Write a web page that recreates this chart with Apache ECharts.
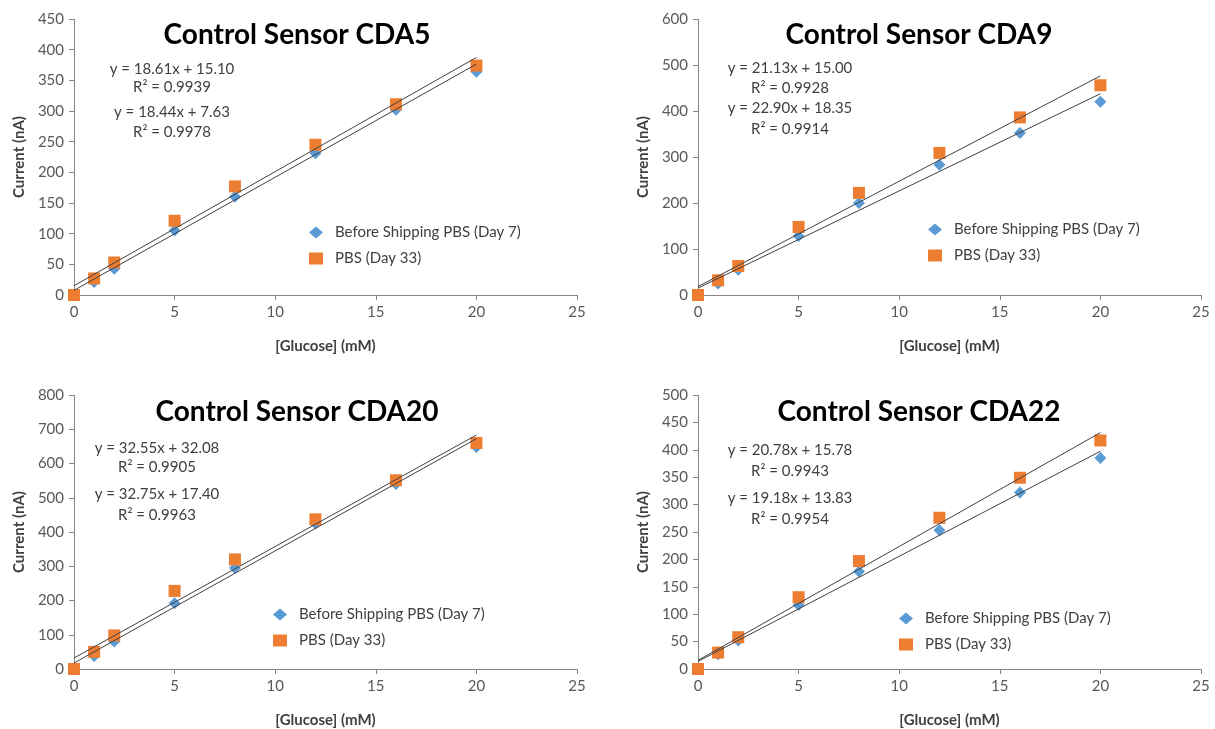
<!DOCTYPE html>
<html>
<head>
<meta charset="utf-8">
<title>Control Sensors</title>
<script src="https://cdn.jsdelivr.net/npm/echarts@6/dist/echarts.min.js"></script>
<style>
  html, body { margin: 0; padding: 0; background: #ffffff; }
  #chart { width: 1215px; height: 729px; }
</style>
</head>
<body>
<div id="chart"></div>
<script>
// Glucose concentrations (mM) used for every sensor
const glucose = [0, 1, 2, 5, 8, 12, 16, 20];

// Sensor names
const sensors = ['CDA5', 'CDA9', 'CDA20', 'CDA22'];

// Measured current (nA), before shipping (day 7)
const beforeCDA5  = [0, 21, 43, 105, 160, 231, 302, 364];
const beforeCDA9  = [0, 25, 55, 128, 200, 283, 352, 420];
const beforeCDA20 = [0, 38, 80, 192, 295, 425, 540, 648];
const beforeCDA22 = [0, 27, 52, 117, 178, 253, 322, 385];

// Measured current (nA), day 33
const day33CDA5  = [0, 27, 53, 121, 177, 245, 311, 374];
const day33CDA9  = [0, 32, 63, 148, 222, 309, 386, 456];
const day33CDA20 = [0, 50, 98, 228, 320, 437, 551, 660];
const day33CDA22 = [0, 30, 58, 131, 197, 276, 349, 417];

// Linear fits [slope, intercept, R²]
const fitBeforeCDA5  = [18.44, 7.63, 0.9978];
const fitBeforeCDA9  = [21.13, 15.00, 0.9928];
const fitBeforeCDA20 = [32.75, 17.40, 0.9963];
const fitBeforeCDA22 = [19.18, 13.83, 0.9954];
const fitDay33CDA5  = [18.61, 15.10, 0.9939];
const fitDay33CDA9  = [22.90, 18.35, 0.9914];
const fitDay33CDA20 = [32.55, 32.08, 0.9905];
const fitDay33CDA22 = [20.78, 15.78, 0.9943];

// Y-axis ranges and steps
const yMax  = [450, 600, 800, 500];
const yStep = [50, 100, 100, 50];

// Order in which the two equations are listed in each panel ('d' = day 33, 'b' = before)
const eqOrder = [['d', 'b'], ['b', 'd'], ['d', 'b'], ['d', 'b']];

const seriesNames = ['Before Shipping PBS (Day 7)', 'PBS (Day 33)'];

const before = [beforeCDA5, beforeCDA9, beforeCDA20, beforeCDA22];
const day33  = [day33CDA5, day33CDA9, day33CDA20, day33CDA22];
const fitB   = [fitBeforeCDA5, fitBeforeCDA9, fitBeforeCDA20, fitBeforeCDA22];
const fitD   = [fitDay33CDA5, fitDay33CDA9, fitDay33CDA20, fitDay33CDA22];

const FONT = 'Lato, "Open Sans", sans-serif';
const BLUE = '#5B9BD5';
const ORANGE = '#ED7D31';
const AXIS = '#868686';
const LABEL = '#595959';

// Panel layout (eqY: vertical centres of the four annotation lines)
const panels = [
  { left: 74,  top: 19,  width: 503, height: 276, titleX: 292, titleY: 16,  eqX: 172, eqY: [69, 87, 112, 132],   legX: 309, legY: 225 },
  { left: 698, top: 19,  width: 503, height: 276, titleX: 914, titleY: 16,  eqX: 790, eqY: [68, 88, 108, 129],   legX: 928, legY: 222 },
  { left: 74,  top: 395, width: 503, height: 275, titleX: 292, titleY: 393, eqX: 157, eqY: [448, 467, 494, 515], legX: 273, legY: 607 },
  { left: 698, top: 395, width: 503, height: 275, titleX: 914, titleY: 393, eqX: 790, eqY: [450, 471, 498, 519], legX: 899, legY: 611 }
];

function fmt(v, d) { return v.toFixed(d); }
function eqText(f) { return 'y = ' + fmt(f[0], 2) + 'x + ' + fmt(f[1], 2); }
function r2Text(f) { return 'R\u00B2 = ' + fmt(f[2], 4); }

const grid = [], xAxis = [], yAxis = [], series = [], title = [], legend = [], graphic = [];

panels.forEach((p, i) => {
  grid.push({ left: p.left, top: p.top, width: p.width, height: p.height, containLabel: false });

  xAxis.push({
    type: 'value', gridIndex: i, min: 0, max: 25, interval: 5,
    name: '[Glucose] (mM)', nameLocation: 'middle', nameGap: 44,
    nameTextStyle: { fontFamily: FONT, fontSize: 15, fontWeight: 'bold', color: '#404040' },
    axisLine: { show: true, lineStyle: { color: AXIS, width: 1 } },
    axisTick: { show: true, length: 5, lineStyle: { color: AXIS } },
    axisLabel: { fontFamily: FONT, fontSize: 15, color: LABEL, margin: 10 },
    splitLine: { show: false }
  });

  yAxis.push({
    type: 'value', gridIndex: i, min: 0, max: yMax[i], interval: yStep[i],
    name: 'Current (nA)', nameLocation: 'middle', nameGap: 47,
    nameTextStyle: { fontFamily: FONT, fontSize: 15, fontWeight: 'bold', color: '#404040' },
    axisLine: { show: true, lineStyle: { color: AXIS, width: 1 } },
    axisTick: { show: true, length: 5, lineStyle: { color: AXIS } },
    axisLabel: { fontFamily: FONT, fontSize: 15, color: LABEL, margin: 10 },
    splitLine: { show: false }
  });

  series.push({
    name: seriesNames[0], type: 'scatter', xAxisIndex: i, yAxisIndex: i,
    symbol: 'diamond', symbolSize: 12, itemStyle: { color: BLUE, opacity: 1 }, z: 2,
    data: glucose.map((x, k) => [x, before[i][k]])
  });
  series.push({
    name: seriesNames[1], type: 'scatter', xAxisIndex: i, yAxisIndex: i,
    symbol: 'rect', symbolSize: 12, itemStyle: { color: ORANGE, opacity: 1 }, z: 3,
    data: glucose.map((x, k) => [x, day33[i][k]])
  });

  // Trend lines from the fitted equations, over the measured range
  const x0 = glucose[0], x1 = glucose[glucose.length - 1];
  [fitB[i], fitD[i]].forEach(f => {
    series.push({
      type: 'line', xAxisIndex: i, yAxisIndex: i, symbol: 'none', silent: true, z: 4,
      lineStyle: { color: '#404040', width: 1 },
      data: [[x0, f[0] * x0 + f[1]], [x1, f[0] * x1 + f[1]]]
    });
  });

  title.push({
    text: 'Control Sensor ' + sensors[i],
    left: p.titleX, top: p.titleY, textAlign: 'center',
    textStyle: { fontFamily: FONT, fontSize: 28, fontWeight: 'bold', color: '#000000' }
  });

  legend.push({
    orient: 'vertical', left: p.legX, top: p.legY, padding: 0, itemGap: 11,
    itemWidth: 14, itemHeight: 12, selectedMode: false,
    textStyle: { fontFamily: FONT, fontSize: 15, color: '#404040', padding: [0, 0, 0, 7] },
    data: [
      { name: seriesNames[0], icon: 'diamond', itemStyle: { color: BLUE, opacity: 1 } },
      { name: seriesNames[1], icon: 'rect', itemStyle: { color: ORANGE, opacity: 1 } }
    ]
  });

  // Equation annotations
  const lines = [];
  eqOrder[i].forEach(k => {
    const f = k === 'd' ? fitD[i] : fitB[i];
    lines.push(eqText(f), r2Text(f));
  });
  lines.forEach((t, j) => {
    graphic.push({
      type: 'text', x: p.eqX, y: p.eqY[j],
      style: {
        text: t, fill: '#404040', fontFamily: FONT, fontSize: 15,
        textAlign: 'center', textVerticalAlign: 'middle'
      }
    });
  });
});

const chart = echarts.init(document.getElementById('chart'), null, { renderer: 'canvas' });
chart.setOption({
  animation: false,
  backgroundColor: '#ffffff',
  grid, xAxis, yAxis, series, title, legend, graphic
});
</script>
</body>
</html>
